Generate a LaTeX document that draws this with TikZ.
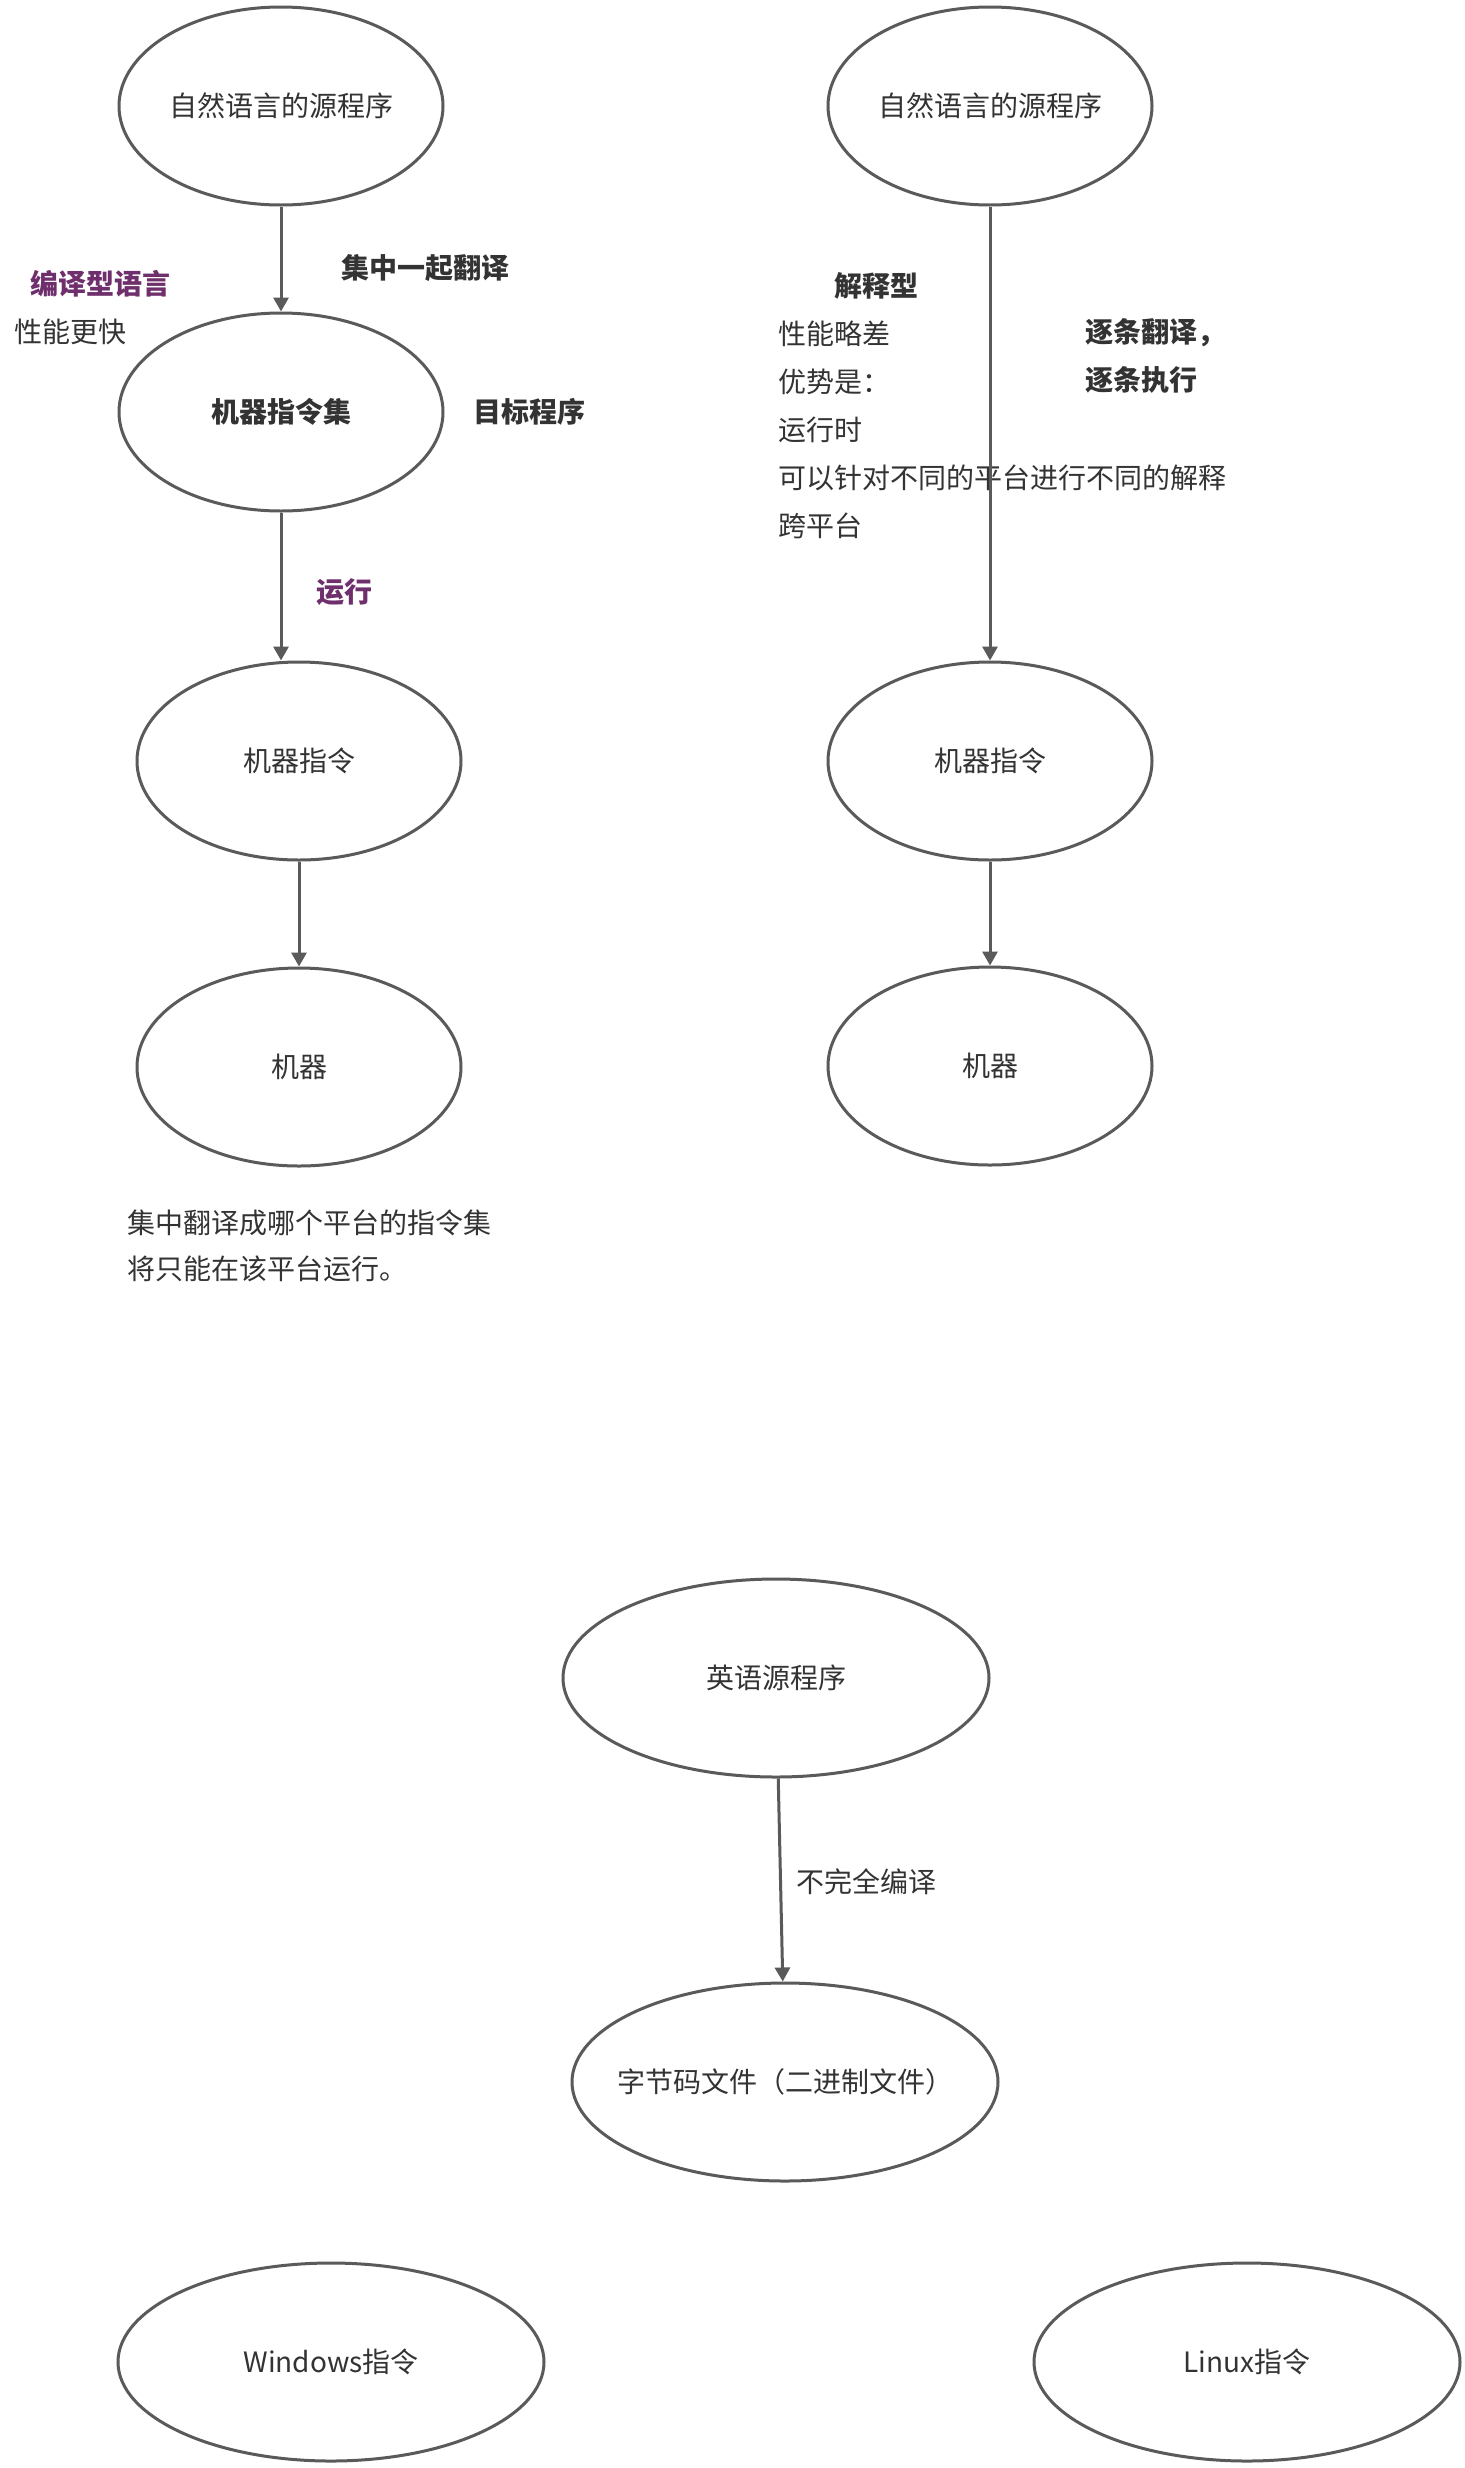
\documentclass[tikz,border=0pt]{standalone}
\usepackage{fontspec}
\setmainfont{Noto Sans CJK SC}
\usetikzlibrary{arrows.meta,shapes.geometric}
\definecolor{edgegray}{HTML}{5A5A5A}
\definecolor{txtgray}{HTML}{333333}
\definecolor{plum}{HTML}{6F2F6D}
\tikzset{
  body/.style={font=\fontsize{14pt}{24pt}\selectfont, text=txtgray, inner sep=0pt},
  strong/.style={body, font=\fontsize{14pt}{24pt}\selectfont\bfseries},
  accent/.style={strong, text=plum},
  blob/.style={ellipse, draw=edgegray, line width=1.5pt, minimum width=162pt, minimum height=99pt, body},
  wideblob/.style={blob, minimum width=213pt},
  flow/.style={draw=edgegray, line width=1.5pt, -{Triangle[length=7pt,width=7.5pt]}},
}
\begin{document}
\begin{tikzpicture}[x=0.5pt, y=-0.5pt]
  \useasboundingbox (0,0) rectangle (1464,2468);
  \fill[white] (0,0) rectangle (1464,2468);
  % compiled language, left column
  \begin{scope}
    \node[blob] (srcL) at (281,106) {自然语言的源程序};
    \node[blob, strong] (mset) at (281,412) {机器指令集};
    \node[blob] (minstrL) at (299,761) {机器指令};
    \node[blob] (machL) at (299,1067) {机器};
    \node[strong] (together) at (425,268) {集中一起翻译};
    \node[accent] (compiled) at (100,284) {编译型语言};
    \node[body, anchor=west] (faster) at (14,332) {性能更快};
    \node[strong, anchor=west] (target) at (473,412) {目标程序};
    \node[accent] (run) at (344,592) {运行};
    \node[body, anchor=west, align=left, font=\fontsize{14pt}{23pt}\selectfont] (platnote) at (127,1246)
      {集中翻译成哪个平台的指令集\\将只能在该平台运行。};
    \draw[flow] (mset.south) -- (mset.south |- minstrL.north);
  \end{scope}
  % interpreted language, right column
  \begin{scope}
    \node[blob] (srcR) at (990,106) {自然语言的源程序};
    \node[blob] (minstrR) at (990,761) {机器指令};
    \node[blob] (machR) at (990,1066) {机器};
    \node[strong] (interp) at (876,286) {解释型};
    \node[body, anchor=west, align=left] (pros) at (778,430)
      {性能略差\\优势是：\\运行时\\可以针对不同的平台进行不同的解释\\跨平台};
    \node[strong, anchor=west, align=left] (stepwise) at (1085,356) {逐条翻译，\\逐条执行};
  \end{scope}
  % bytecode
  \node[wideblob, minimum width=213pt] (eng) at (776,1678) {英语源程序};
  \node[wideblob, minimum width=213pt, inner xsep=-10pt] (bytecode) at (785,2082) {字节码文件（二进制文件）};
  \node[body] (partial) at (866,1882) {不完全编译};
  \node[wideblob] (win) at (331,2362) {Windows指令};
  \node[wideblob] (linux) at (1247,2362) {Linux指令};
  \foreach \a/\b in {srcL/mset, minstrL/machL, srcR/minstrR, minstrR/machR, eng/bytecode}{
      \draw[flow] (\a) -- (\b);
  }
\end{tikzpicture}
\end{document}
